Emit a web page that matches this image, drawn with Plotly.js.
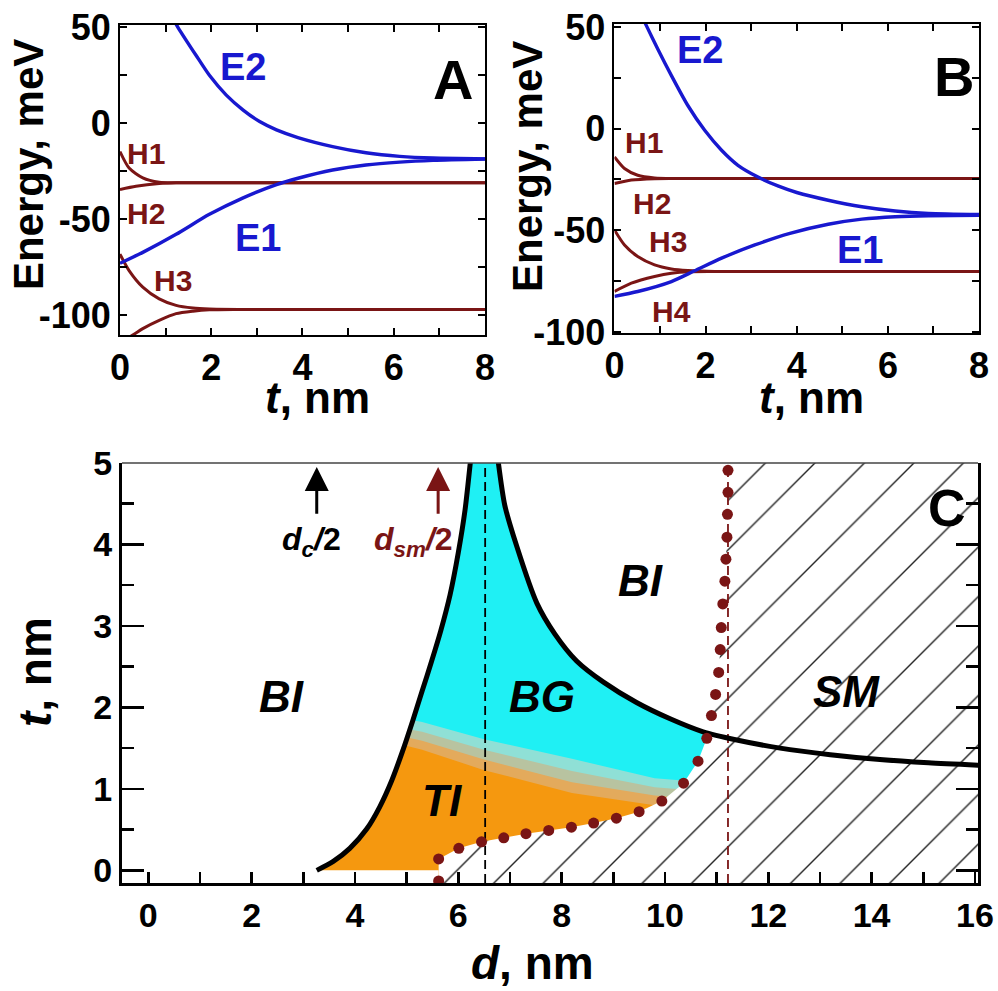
<!DOCTYPE html>
<html><head><meta charset="utf-8">
<script src="https://cdn.plot.ly/plotly-3.0.1.min.js"></script>
<style>html,body{margin:0;padding:0;background:#fff}</style>
</head><body>
<div id="chart" style="width:998px;height:991px"></div>
<script>
// ---------- Panel A : energy levels vs t ----------
const tA_E2 = [1.10, 1.27, 1.67, 1.96, 2.33, 2.70, 3.06, 3.43, 3.90, 4.66, 5.39, 6.13, 6.86, 8.00];
const eA_E2 = [57, 50, 35.3, 25, 14.7, 6.9, 0.9, -3.4, -7.4, -12.1, -15.3, -17.2, -18.1, -18.5];
const tA_E1 = [0, 0.5, 1.23, 1.96, 2.70, 3.43, 3.90, 4.66, 5.39, 6.13, 6.86, 8.00];
const eA_E1 = [-72.9, -67.2, -57.8, -47.4, -38.8, -31.9, -28.6, -24.3, -21.7, -20.2, -19.3, -18.6];
const tA_H1 = [0, 0.2, 0.5, 0.86, 1.23, 2, 8];
const eA_H1 = [-14.7, -23.3, -28.4, -30.7, -31.0, -31.0, -31.0];
const tA_H2 = [0, 0.35, 0.86, 1.23, 2, 8];
const eA_H2 = [-34.5, -32.8, -31.4, -31.0, -31.0, -31.0];
const tA_H3 = [0, 0.2, 0.5, 0.86, 1.23, 1.6, 1.96, 2.6, 8];
const eA_H3 = [-68.1, -76.7, -85.3, -91.4, -94.8, -96.2, -96.7, -96.9, -96.9];
const tA_H4 = [0, 0.28, 0.5, 0.86, 1.23, 1.6, 1.96, 2.6, 8];
const eA_H4 = [-114, -110.3, -106.9, -102.6, -99.1, -97.8, -97.1, -96.9, -96.9];

// ---------- Panel B ----------
const tB_E2 = [0.55, 0.70, 0.95, 1.25, 1.61, 1.98, 2.35, 2.71, 3.15, 3.60, 4.00, 4.69, 5.43, 6.16, 6.89, 8.00];
const eB_E2 = [58, 50.7, 39.2, 26.1, 11.4, -0.8, -10.6, -18.0, -23.8, -28.3, -31.4, -35.2, -38.4, -40.5, -41.7, -42.2];
const tB_E1 = [0, 0.51, 1.25, 1.76, 2.35, 3.08, 3.85, 4.69, 5.43, 6.16, 6.89, 8.00];
const eB_E1 = [-82.5, -80.1, -75.2, -69.9, -63.7, -57.2, -51.5, -47.0, -44.5, -43.3, -42.8, -42.6];
const tB_H1 = [0, 0.22, 0.51, 0.88, 1.3, 8];
const eB_H1 = [-13.9, -19.6, -22.9, -24.2, -24.5, -24.5];
const tB_H2 = [0, 0.37, 0.88, 1.3, 8];
const eB_H2 = [-27.0, -25.3, -24.6, -24.5, -24.5];
const tB_H3 = [0, 0.22, 0.51, 0.88, 1.25, 1.61, 2.2, 8];
const eB_H3 = [-49.8, -57.2, -62.9, -67.0, -69.0, -69.8, -70.3, -70.3];
const tB_H4 = [0, 0.37, 0.88, 1.25, 1.69, 2.2, 8];
const eB_H4 = [-80.1, -76.0, -72.7, -71.1, -70.4, -70.3, -70.3];

// ---------- Panel C : phase diagram (d, t) ----------
const leftD  = [3.26, 3.58, 3.90, 4.23, 4.48, 4.71, 4.92, 5.12, 5.30, 5.48, 5.66, 5.84, 6.00, 6.13, 6.24];
const leftT  = [0.00, 0.11, 0.27, 0.51, 0.78, 1.10, 1.46, 1.84, 2.20, 2.56, 2.94, 3.38, 3.90, 4.42, 5.05];
const rightD = [6.77, 6.90, 7.13, 7.52, 7.87, 8.29, 8.81, 9.45, 10.10, 10.74, 11.39, 12.23, 13.20, 14.16, 15.10, 16.10];
const rightT = [5.03, 4.48, 3.98, 3.28, 2.90, 2.57, 2.31, 2.06, 1.86, 1.70, 1.60, 1.50, 1.42, 1.36, 1.32, 1.29];
const dotD = [5.62, 5.62, 6.01, 6.45, 6.88, 7.31, 7.75, 8.19, 8.62, 9.06, 9.50, 9.94, 10.36, 10.64, 10.81, 10.90, 10.98, 11.04, 11.07, 11.09, 11.12, 11.16, 11.18, 11.20, 11.21, 11.22, 11.22];
const dotT = [-0.13, 0.14, 0.27, 0.35, 0.40, 0.45, 0.49, 0.53, 0.58, 0.64, 0.72, 0.85, 1.07, 1.34, 1.62, 1.90, 2.16, 2.43, 2.71, 2.98, 3.27, 3.55, 3.82, 4.09, 4.37, 4.64, 4.91];
// TI -> BG colour transition edges
const bandD       = [4.8, 5.3, 6.5, 8.2, 9.8, 10.6];
const orangeTopT  = [1.56, 1.48, 1.23, 0.95, 0.80, 0.76];
const tanTopT     = [1.66, 1.59, 1.36, 1.08, 0.92, 0.88];
const tealTopT    = [1.76, 1.70, 1.48, 1.22, 1.02, 0.98];
const cyanBottomT = [1.88, 1.82, 1.61, 1.37, 1.13, 1.09];
const dC = 6.52, dSm = 11.22;

// axis ranges and ticks
const xRangeA = [0, 8],  yRangeA = [-110.2, 51.2];
const xRangeB = [0, 8],  yRangeB = [-100.5, 51.5];
const xRangeC = [-0.51, 16.06], yRangeC = [-0.155, 5.0];
const tTickVals = [0, 1, 2, 3, 4, 5, 6, 7, 8];
const tTickText = ['0', '', '2', '', '4', '', '6', '', '8'];
const eTickVals = [-100, -75, -50, -25, 0, 25, 50];
const eTickText = ['-100', '', '-50', '', '0', '', '50'];
const dTickVals = [0, 1, 2, 3, 4, 5, 6, 7, 8, 9, 10, 11, 12, 13, 14, 15, 16];
const dTickText = ['0', '', '2', '', '4', '', '6', '', '8', '', '10', '', '12', '', '14', '', '16'];

const FONT = 'Liberation Sans, Arial, Helvetica, sans-serif';
const BLUE = '#1818cf';
const MAROON = '#7a1515';
const CYAN = '#1ff0f4';
const ORANGE = '#f5980f';

function curve(x, y, color, width, xa, ya) {
  return {type: 'scatter', mode: 'lines', x: x, y: y, xaxis: xa, yaxis: ya,
    line: {color: color, width: width, shape: 'spline', smoothing: 0.7},
    hoverinfo: 'skip', showlegend: false};
}
function region(x, y, color, extra) {
  return Object.assign({type: 'scatter', mode: 'none', fill: 'toself', x: x, y: y,
    xaxis: 'x3', yaxis: 'y3', fillcolor: color, line: {width: 0},
    hoverinfo: 'skip', showlegend: false}, extra || {});
}
function band(tArr) {
  const n = tArr.length;
  return {x: [xRangeC[0]].concat(bandD, [xRangeC[1], xRangeC[1], xRangeC[0]]),
          y: [tArr[0]].concat(tArr, [tArr[n - 1], yRangeC[0], yRangeC[0]])};
}

const traces = [];
// Panel A
[[tA_H1, eA_H1], [tA_H2, eA_H2], [tA_H3, eA_H3], [tA_H4, eA_H4]].forEach(function (s) {
  traces.push(curve(s[0], s[1], MAROON, 3, 'x', 'y'));
});
traces.push(curve(tA_E2, eA_E2, BLUE, 3.4, 'x', 'y'));
traces.push(curve(tA_E1, eA_E1, BLUE, 3.4, 'x', 'y'));
// Panel B
[[tB_H1, eB_H1], [tB_H2, eB_H2], [tB_H3, eB_H3], [tB_H4, eB_H4]].forEach(function (s) {
  traces.push(curve(s[0], s[1], MAROON, 3, 'x2', 'y2'));
});
traces.push(curve(tB_E2, eB_E2, BLUE, 3.4, 'x2', 'y2'));
traces.push(curve(tB_E1, eB_E1, BLUE, 3.4, 'x2', 'y2'));

// Panel C colour bands (cyan background is a shape)
let b = band(cyanBottomT); traces.push(region(b.x, b.y, '#8fe0d6'));
b = band(tealTopT);        traces.push(region(b.x, b.y, '#b8c3a0'));
b = band(tanTopT);         traces.push(region(b.x, b.y, '#e3aa5c'));
b = band(orangeTopT);      traces.push(region(b.x, b.y, ORANGE));
// white mask left of the left boundary (BI)
traces.push(region(
  [xRangeC[0], xRangeC[0]].concat(leftD.slice().reverse(), [dotD[0], dotD[0]]),
  [yRangeC[0], leftT[leftT.length - 1]].concat(leftT.slice().reverse(), [0, yRangeC[0]]),
  'white'));
// white mask above the right boundary (BI)
traces.push(region(rightD.concat([rightD[rightD.length - 1]]),
                   rightT.concat([rightT[0]]), 'white'));
// hatched semimetal region
traces.push(region(
  dotD.concat([dotD[dotD.length - 1], xRangeC[1], xRangeC[1], dotD[0]]),
  dotT.concat([yRangeC[1], yRangeC[1], yRangeC[0], yRangeC[0]]),
  'white', {fillpattern: {shape: '/', size: 35, solidity: 0.04, fgcolor: '#222', bgcolor: 'white', fillmode: 'replace'}}));
// dashed critical lines
traces.push({type: 'scatter', mode: 'lines', x: [dC, dC], y: yRangeC, xaxis: 'x3', yaxis: 'y3',
  line: {color: 'black', width: 1.8, dash: '9px,5px'}, hoverinfo: 'skip', showlegend: false});
traces.push({type: 'scatter', mode: 'lines', x: [dSm, dSm], y: yRangeC, xaxis: 'x3', yaxis: 'y3',
  line: {color: MAROON, width: 1.8, dash: '9px,5px'}, hoverinfo: 'skip', showlegend: false});
// phase boundaries
traces.push(curve(leftD, leftT, 'black', 5, 'x3', 'y3'));
traces.push(curve(rightD, rightT, 'black', 5, 'x3', 'y3'));
// dotted boundary
traces.push({type: 'scatter', mode: 'markers', x: dotD, y: dotT, xaxis: 'x3', yaxis: 'y3',
  marker: {color: MAROON, size: 11, line: {width: 0}}, hoverinfo: 'skip', showlegend: false});

function ax(extra) {
  return Object.assign({
    showline: true, linecolor: 'black', linewidth: 2, mirror: 'allticks',
    ticks: 'inside', tickcolor: 'black', tickwidth: 2, ticklen: 7,
    showgrid: false, zeroline: false, fixedrange: true, tickmode: 'array',
    tickfont: {family: FONT, size: 36, color: 'black', weight: 'bold'}
  }, extra);
}

const layout = {
  width: 998, height: 991, margin: {l: 0, r: 0, t: 0, b: 0},
  paper_bgcolor: 'white', plot_bgcolor: 'rgba(0,0,0,0)', showlegend: false,
  xaxis: ax({domain: [0.1202, 0.486], range: xRangeA, anchor: 'y', tickvals: tTickVals, ticktext: tTickText}),
  yaxis: ax({domain: [0.662, 0.9748], range: yRangeA, anchor: 'x', tickvals: eTickVals, ticktext: eTickText}),
  xaxis2: ax({domain: [0.6157, 0.981], range: xRangeB, anchor: 'y2', tickvals: tTickVals, ticktext: tTickText}),
  yaxis2: ax({domain: [0.664, 0.9758], range: yRangeB, anchor: 'x2', tickvals: eTickVals, ticktext: eTickText}),
  xaxis3: ax({domain: [0.1222, 0.980], range: xRangeC, anchor: 'y3', tickvals: dTickVals, ticktext: dTickText,
    mirror: false, linewidth: 3, ticklen: 11, tickwidth: 2.5,
    tickfont: {family: FONT, size: 34, color: 'black', weight: 'bold'}}),
  yaxis3: ax({domain: [0.109, 0.5328], range: yRangeC, anchor: 'x3', tickmode: 'linear', dtick: 1, tick0: 0,
    linewidth: 3, ticklen: 22, tickwidth: 2.5,
    tickfont: {family: FONT, size: 34, color: 'black', weight: 'bold'},
    minor: {dtick: 0.5, tick0: 0, ticks: 'inside', ticklen: 12, tickwidth: 2.5, tickcolor: 'black'}}),
  shapes: [
    {type: 'rect', xref: 'x3 domain', yref: 'y3 domain', x0: 0, x1: 1, y0: 0, y1: 1,
     fillcolor: CYAN, line: {width: 0}, layer: 'below'},
    {type: 'line', xref: 'x3 domain', yref: 'y3 domain', x0: 0, x1: 1, y0: 1, y1: 1,
     line: {color: '#444', width: 1.5}, layer: 'above'}
  ],
  annotations: []
};

function note(text, x, y, xr, yr, size, color, extra) {
  layout.annotations.push(Object.assign({text: text, x: x, y: y, xref: xr, yref: yr, showarrow: false,
    xanchor: 'center', yanchor: 'middle', font: {family: FONT, size: size, color: color}}, extra || {}));
}
// axis titles
note('<b>Energy, meV</b>', 0.0281, 0.8335, 'paper', 'paper', 42, 'black', {textangle: -90});
note('<b><i>t</i>, nm</b>', 0.3186, 0.5990, 'paper', 'paper', 44, 'black');
note('<b>Energy, meV</b>', 0.5291, 0.8315, 'paper', 'paper', 42, 'black', {textangle: -90});
note('<b><i>t</i>, nm</b>', 0.8136, 0.5990, 'paper', 'paper', 44, 'black');
note('<b><i>t</i>, nm</b>', 0.0351, 0.3219, 'paper', 'paper', 46, 'black', {textangle: -90});
note('<b><i>d</i>, nm</b>', 0.5331, 0.0283, 'paper', 'paper', 46, 'black');
// panel A labels
note('<b>E2</b>', 2.70, 29.5, 'x', 'y', 38, BLUE);
note('<b>E1</b>', 3.03, -59.9, 'x', 'y', 38, BLUE);
note('<b>H1</b>', 0.58, -15.6, 'x', 'y', 30, MAROON);
note('<b>H2</b>', 0.58, -46.9, 'x', 'y', 30, MAROON);
note('<b>H3</b>', 1.17, -81.6, 'x', 'y', 30, MAROON);
note('<b>A</b>', 7.30, 22.6, 'x', 'y', 56, 'black');
// panel B labels
note('<b>E2</b>', 1.88, 38.9, 'x2', 'y2', 38, BLUE);
note('<b>E1</b>', 5.39, -59.5, 'x2', 'y2', 38, BLUE);
note('<b>H1</b>', 0.64, -7.0, 'x2', 'y2', 30, MAROON);
note('<b>H2</b>', 0.82, -36.6, 'x2', 'y2', 30, MAROON);
note('<b>H3</b>', 1.18, -55.4, 'x2', 'y2', 30, MAROON);
note('<b>H4</b>', 1.26, -89.8, 'x2', 'y2', 30, MAROON);
note('<b>B</b>', 7.44, 25.7, 'x2', 'y2', 56, 'black');
// panel C labels
note('<b><i>BI</i></b>', 2.57, 2.13, 'x3', 'y3', 44, 'black');
note('<b><i>TI</i></b>', 5.69, 0.86, 'x3', 'y3', 44, 'black');
note('<b><i>BG</i></b>', 7.62, 2.14, 'x3', 'y3', 44, 'black');
note('<b><i>BI</i></b>', 9.52, 3.56, 'x3', 'y3', 44, 'black');
note('<b><i>SM</i></b>', 13.52, 2.19, 'x3', 'y3', 44, 'black');
note('<b>C</b>', 15.45, 4.45, 'x3', 'y3', 52, 'black');
note('<b><i>d</i><sub><i>c</i></sub></b>', 6.62, 5.24, 'x3', 'y3', 34, 'black');
note('<b><i>d</i><sub><i>sm</i></sub></b>', 11.12, 5.28, 'x3', 'y3', 34, MAROON);
note('<b><i>d</i><sub><i>c</i></sub><i>/</i>2</b>', 3.16, 4.04, 'x3', 'y3', 32, 'black');
note('<b><i>d</i><sub><i>sm</i></sub><i>/</i>2</b>', 5.14, 4.04, 'x3', 'y3', 32, MAROON);
// arrows at dc/2 and dsm/2
const arrowTail = 4.36, arrowTip = 4.95;
[[dC / 2, 'black'], [dSm / 2, MAROON]].forEach(function (a) {
  layout.annotations.push({x: a[0], y: arrowTip, ax: a[0], ay: arrowTail, xref: 'x3', yref: 'y3', axref: 'x3', ayref: 'y3',
    text: '', showarrow: true, arrowhead: 2, arrowsize: 1.6, arrowwidth: 3, arrowcolor: a[1]});
});

Plotly.newPlot('chart', traces, layout, {staticPlot: true, displayModeBar: false});
</script>
</body></html>
